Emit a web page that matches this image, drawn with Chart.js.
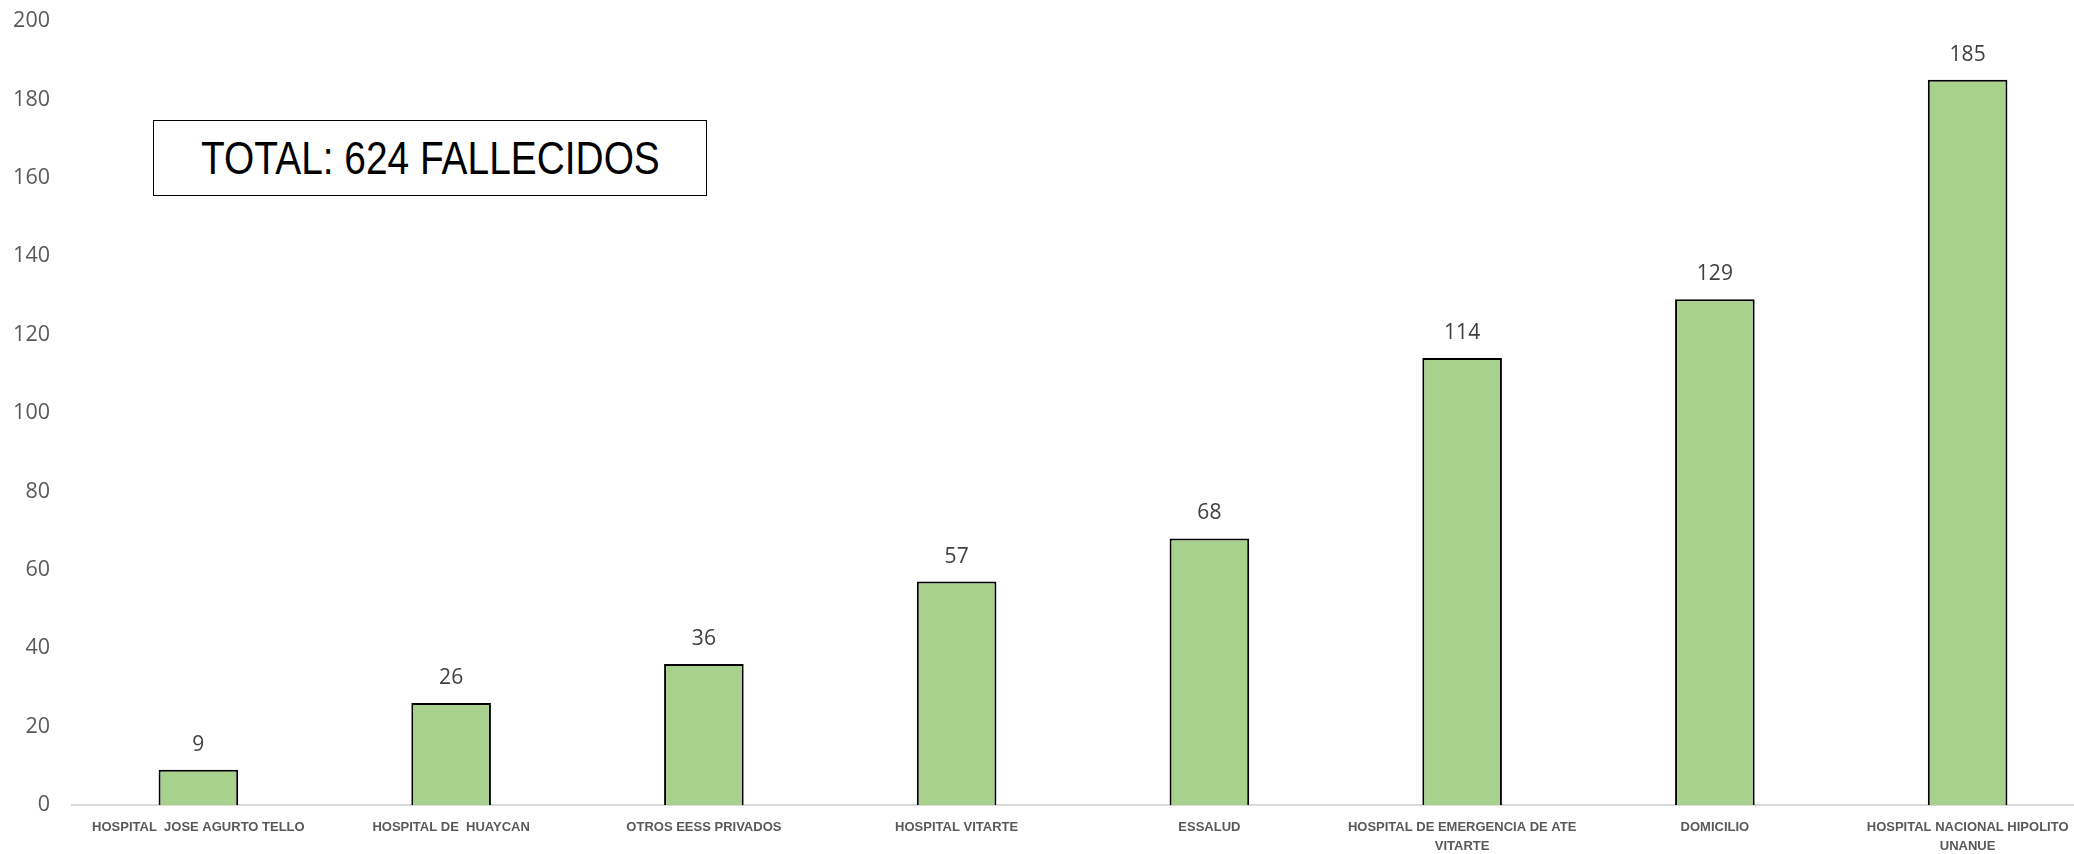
<!DOCTYPE html>
<html>
<head>
<meta charset="utf-8">
<script src="https://cdn.jsdelivr.net/npm/chart.js@4"></script>
<style>
  html, body { margin: 0; padding: 0; background: #fff; overflow: hidden; }
  .wrap { position: relative; width: 2100px; height: 854px; }
  .total-box {
    position: absolute; left: 153px; top: 120px; width: 552px; height: 74px;
    border: 1.5px solid #000; background: #fff;
    font-family: "Liberation Sans", sans-serif; font-size: 46px;
    display: flex; align-items: center; justify-content: center; color: #000;
  }
  .total-box span { display: inline-block; transform: scaleX(0.845); white-space: nowrap; }
</style>
</head>
<body>
<div class="wrap">
  <canvas id="myChart" width="2100" height="854"></canvas>
  <div class="total-box"><span>TOTAL: 624 FALLECIDOS</span></div>
</div>
<script>
// ===== Data =====
const categories = [
  "HOSPITAL  JOSE AGURTO TELLO",
  "HOSPITAL DE  HUAYCAN",
  "OTROS EESS PRIVADOS",
  "HOSPITAL VITARTE",
  "ESSALUD",
  ["HOSPITAL DE EMERGENCIA DE ATE", "VITARTE"],
  "DOMICILIO",
  ["HOSPITAL NACIONAL HIPOLITO", "UNANUE"]
];
const deaths = [9, 26, 36, 57, 68, 114, 129, 185];
const yMin = 0, yMax = 200, yStep = 20;

// ===== Value labels above bars =====
const valueLabels = {
  id: 'valueLabels',
  afterDatasetsDraw(chart) {
    const ctx = chart.ctx;
    const meta = chart.getDatasetMeta(0);
    ctx.save();
    ctx.font = '21px "Open Sans"';
    ctx.fillStyle = '#404040';
    ctx.textAlign = 'center';
    ctx.textBaseline = 'middle';
    meta.data.forEach((bar, i) => {
      ctx.fillText(String(deaths[i]), bar.x, bar.y - 25);
    });
    ctx.restore();
  }
};

let ctx = document.getElementById('myChart').getContext('2d');

let chart = new Chart(ctx, {
  type: 'bar',
  data: {
    labels: categories,
    datasets: [{
      label: 'Fallecidos',
      data: deaths,
      backgroundColor: '#A9D18E',
      borderColor: '#000000',
      borderWidth: 2,
      barPercentage: 0.63,
      categoryPercentage: 0.5
    }]
  },
  options: {
    responsive: false,
    animation: false,
    layout: { padding: { top: 21, right: 6, left: 0, bottom: 0 } },
    plugins: {
      legend: { display: false },
      tooltip: { enabled: false }
    },
    scales: {
      x: {
        grid: { display: false, drawTicks: false },
        border: { display: true, color: '#d9d9d9', width: 2 },
        ticks: {
          padding: 13,
          maxRotation: 0,
          autoSkip: false,
          color: '#595959',
          font: { family: '"Liberation Sans", sans-serif', size: 13, weight: 'bold', lineHeight: 1.45 }
        },
        afterFit(scale) { scale.height = 49; }
      },
      y: {
        min: yMin,
        max: yMax,
        grid: { display: false, drawTicks: false },
        border: { display: false },
        ticks: {
          stepSize: yStep,
          padding: 22,
          color: '#595959',
          font: { family: '"Open Sans"', size: 21.5 }
        },
        afterFit(scale) {
          scale.width = 72;
          scale.paddingTop = 0;     // let layout padding decide the top
          scale.paddingBottom = 0;
        }
      }
    }
  },
  plugins: [valueLabels]
});
</script>
</body>
</html>
